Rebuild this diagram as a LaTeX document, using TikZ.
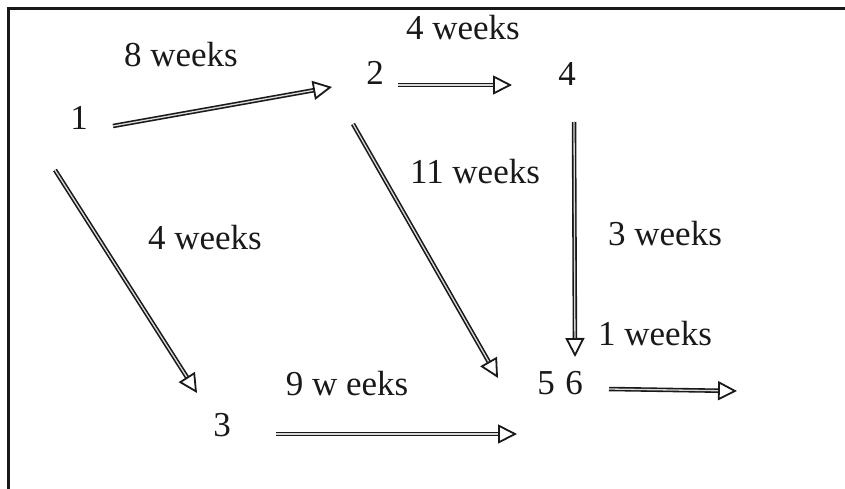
\documentclass[tikz,border=0pt]{standalone}
\usepackage{fontspec}
\setmainfont{Liberation Serif}
\usepackage{tikz}
\usetikzlibrary{arrows.meta, positioning, calc}

\begin{document}
\begin{tikzpicture}[
          x=1pt, y=-1pt,
          every node/.style={inner sep=0pt, font=\fontsize{35}{40}\selectfont},
          event/.style={text=black!90},
          lbl/.style={text=black!90},
          arrow/.style={draw=black!90, line width=1.6pt, double=white!85!black, double distance=1.3pt,
                        -{Triangle[open, length=19pt, width=19pt, line width=1.8pt]}}
        ]
          \useasboundingbox (0,0) rectangle (845,489);
          % Frame
          \draw[line width=3pt, black!90] (845,9) -- (8,9) -- (8,489);

          % Events
          \node[event] (n1) at (79,118) {1};
          \node[event] (n2) at (375,73) {2};
          \node[event] (n4) at (567,74) {4};
          \node[event] (n3) at (222,425) {3};
          \node[event] (n5) at (546,383) {5};
          \node[event] (n6) at (574,383) {6};
          \coordinate (out) at (737,391);

          % Durations
          \node[lbl] (l12) at (181,55) {8 weeks};
          \node[lbl] (l24) at (463,28) {4 weeks};
          \node[lbl] (l25) at (475,172) {11 weeks};
          \node[lbl] (l13) at (205,238) {4 weeks};
          \node[lbl] (l46) at (665,234) {3 weeks};
          \node[lbl] (l6) at (655,334) {1 weeks};
          \node[lbl] (l35) at (347,384) {9 w eeks};

          % Connections
          \draw[arrow] ($(n1)+(34,8)$) -- ($(n2)+(-43,14)$);
          \draw[arrow] ($(n2)+(23,12)$) -- ($(n4)+(-55,11)$);
          \draw[arrow] ($(n4)+(7,48)$) -- ($(n6)+(1,-26)$);
          \draw[arrow] ($(n2)+(-22,51)$) -- ($(n5)+(-48,-5)$);
          \draw[arrow] ($(n1)+(-24,52)$) -- ($(n3)+(-25,-32)$);
          \draw[arrow] ($(n3)+(54,9)$) -- ($(n5)+(-29,51)$);
          \draw[arrow] ($(n6)+(35,6)$) -- (out);
        \end{tikzpicture}
\end{document}
